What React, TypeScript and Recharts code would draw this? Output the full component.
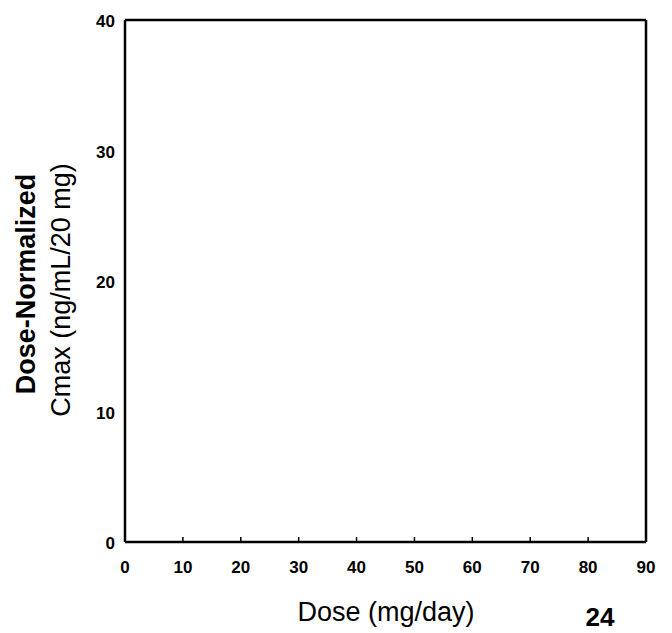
import React from "react";
import { ScatterChart, Scatter, XAxis, YAxis, ReferenceLine, Customized } from "recharts";

const xTicks = [0, 10, 20, 30, 40, 50, 60, 70, 80, 90];
const yTicks = [0, 10, 20, 30, 40];
const doseData: { dose: number; cmax: number }[] = [];
const xTitle = "Dose (mg/day)";
const yTitleLines = ["Dose-Normalized", "Cmax (ng/mL/20 mg)"];
const pageNumber = "24";

const FONT = "'Liberation Sans', Arial, sans-serif";

const XTick = (props: any) => {
  const { x, y, payload } = props;
  return (
    <g>
      <line x1={x} x2={x} y1={y} y2={y - 5} stroke="#000" strokeWidth={1.5} />
      <text x={x} y={y + 31} textAnchor="middle" fontFamily={FONT} fontWeight="bold" fontSize={17} fill="#000">
        {payload.value}
      </text>
    </g>
  );
};

const YTick = (props: any) => {
  const { x, y, payload } = props;
  return (
    <text x={x - 10} y={y + 7} textAnchor="end" fontFamily={FONT} fontWeight="bold" fontSize={17} fill="#000">
      {payload.value}
    </text>
  );
};

const Titles = () => (
  <g fontFamily={FONT} fill="#000">
    <text x={386} y={621} textAnchor="middle" fontSize={27}>
      {xTitle}
    </text>
    <text x={600} y={626} textAnchor="middle" fontSize={26} fontWeight="bold">
      {pageNumber}
    </text>
    <text transform="translate(35,284) rotate(-90)" textAnchor="middle" fontSize={27} fontWeight="bold">
      {yTitleLines[0]}
    </text>
    <text transform="translate(70,290) rotate(-90)" textAnchor="middle" fontSize={27}>
      {yTitleLines[1]}
    </text>
  </g>
);

export default function App() {
  return (
    <div style={{ position: "absolute", left: 0, top: 0, background: "#fff" }}>
      <ScatterChart width={672} height={633} margin={{ top: 20, right: 26, bottom: 61, left: 0 }}>
        <XAxis
          type="number"
          dataKey="dose"
          domain={[0, 90]}
          ticks={xTicks}
          allowDataOverflow
          height={30}
          tickSize={0}
          tickMargin={0}
          tickLine={false}
          axisLine={{ stroke: "#000", strokeWidth: 2.5 }}
          tick={<XTick />}
          interval={0}
        />
        <YAxis
          type="number"
          dataKey="cmax"
          domain={[0, 40]}
          ticks={yTicks}
          allowDataOverflow
          width={125}
          tickSize={0}
          tickMargin={0}
          tickLine={false}
          axisLine={{ stroke: "#000", strokeWidth: 2.5 }}
          tick={<YTick />}
          interval={0}
        />
        <ReferenceLine y={40} stroke="#000" strokeWidth={2.5} ifOverflow="visible" />
        <ReferenceLine x={90} stroke="#000" strokeWidth={2.5} ifOverflow="visible" />
        <Scatter data={doseData} fill="#000" isAnimationActive={false} />
        <Customized component={<Titles />} />
      </ScatterChart>
    </div>
  );
}
